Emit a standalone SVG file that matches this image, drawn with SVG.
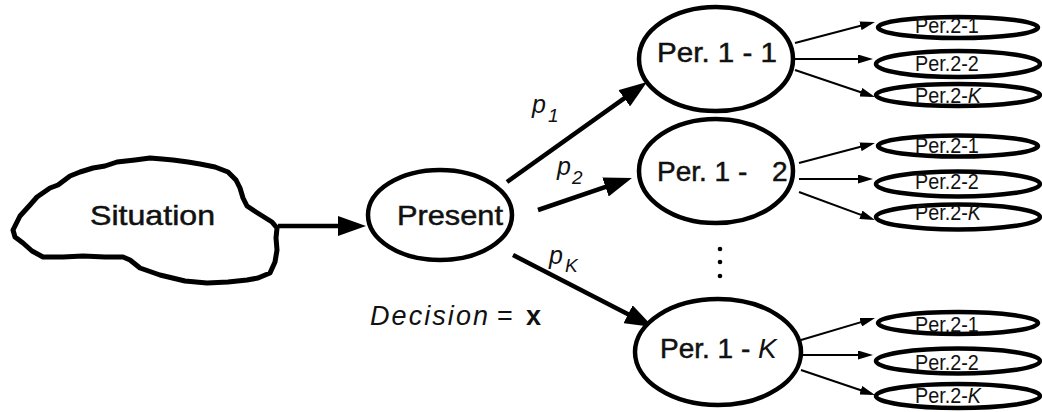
<svg xmlns="http://www.w3.org/2000/svg" width="1042" height="412" viewBox="0 0 1042 412">
<style>
.big{fill:#fff;stroke:#000;stroke-width:4.5}
.small{fill:#fff;stroke:#000;stroke-width:4.5}
.cloud{fill:#fff;stroke:#000;stroke-width:5;stroke-linejoin:round}
.t{font-family:"Liberation Sans",Arial,sans-serif;font-size:28px;fill:#111;stroke:#111;stroke-width:0.5}
.t2{font-family:"Liberation Sans",Arial,sans-serif;font-size:22px;fill:#111}
.it{font-family:"Liberation Sans",Arial,sans-serif;font-style:italic;fill:#111}
.ca{stroke:#000;stroke-width:4.5;fill:none}
.cs{stroke:#000;stroke-width:2;fill:none}
</style>
<defs>
<marker id="ab" markerUnits="userSpaceOnUse" viewBox="0 0 28 20" refX="18" refY="10" markerWidth="28" markerHeight="20" orient="auto"><path d="M0,0 L28,10 L0,20 Z" fill="#000"/></marker>
<marker id="as" markerUnits="userSpaceOnUse" viewBox="0 0 15 9" refX="11" refY="4.5" markerWidth="15" markerHeight="9" orient="auto"><path d="M0,0 L15,4.5 L0,9 Z" fill="#000"/></marker>
</defs>
<g id="connectors">
<line class="ca" x1="278" y1="226" x2="356" y2="226" marker-end="url(#ab)"/>
<line class="ca" x1="507" y1="182" x2="638.9" y2="87.8" marker-end="url(#ab)"/>
<line class="ca" x1="538" y1="210" x2="622.5" y2="181.2" marker-end="url(#ab)"/>
<line class="ca" x1="513" y1="255" x2="644.1" y2="322.4" marker-end="url(#ab)"/>
<line class="cs" x1="795" y1="43" x2="871.1" y2="23" marker-end="url(#as)"/>
<line class="cs" x1="795" y1="59" x2="869" y2="59" marker-end="url(#as)"/>
<line class="cs" x1="795" y1="70" x2="871.2" y2="95.7" marker-end="url(#as)"/>
<line class="cs" x1="799" y1="163" x2="871.1" y2="144" marker-end="url(#as)"/>
<line class="cs" x1="799" y1="179" x2="869" y2="179" marker-end="url(#as)"/>
<line class="cs" x1="799" y1="192" x2="871.2" y2="218.6" marker-end="url(#as)"/>
<line class="cs" x1="801" y1="340" x2="871.2" y2="319.1" marker-end="url(#as)"/>
<line class="cs" x1="803" y1="355" x2="869" y2="355" marker-end="url(#as)"/>
<line class="cs" x1="801" y1="370" x2="871.2" y2="393.7" marker-end="url(#as)"/>
</g>
<g id="labels">
<text class="it" x="532" y="113" font-size="25">p</text><text class="it" x="548" y="122" font-size="19">1</text>
<text class="it" x="557" y="175" font-size="25">p</text><text class="it" x="572" y="184" font-size="19">2</text>
<text class="it" x="549" y="264" font-size="25">p</text><text class="it" x="565" y="272" font-size="19">K</text>
<text x="370" y="325" font-family="Liberation Sans, Arial, sans-serif" font-size="27" fill="#111"><tspan font-style="italic" textLength="118">Decision</tspan><tspan x="497">=</tspan><tspan x="526" font-weight="bold">x</tspan></text>
<circle cx="720" cy="249" r="2.3" fill="#000"/>
<circle cx="720" cy="262" r="2.3" fill="#000"/>
<circle cx="720" cy="276" r="2.3" fill="#000"/>
</g>
<g id="situation">
<path class="cloud" d="M13,230 L20,216 L30,205 L37,197 L50,188 L58,185 L70,176 L80,172 L93,168 L105,166 L117,162 L135,160 L150,158 L162,159 L173,160 L188,162 L200,164 L215,167 L228,172 L236,180 L240,188 L243,198 L247,206 L256,212 L264,217 L272,222 L277,228 L276,238 L277,250 L275,262 L270,273 L258,278 L247,280 L228,282 L207,283 L185,281 L160,275 L140,268 L130,260 L123,257 L105,257 L83,256 L63,257 L43,257 L32,251 L23,243 L15,237 Z"/>
<text class="t" x="90" y="225" textLength="125" lengthAdjust="spacingAndGlyphs">Situation</text>
</g>
<g id="present">
<ellipse class="big" cx="440" cy="215" rx="72" ry="45"/>
<text class="t" x="397" y="225" textLength="106" lengthAdjust="spacingAndGlyphs">Present</text>
</g>
<g id="per1-1">
<ellipse class="big" cx="716" cy="59" rx="77" ry="52"/>
<text class="t" x="657" y="62" textLength="120" lengthAdjust="spacingAndGlyphs">Per. 1 - 1</text>
</g>
<g id="per1-2">
<ellipse class="big" cx="716" cy="171" rx="77" ry="52"/>
<text class="t" x="657" y="181">Per. 1 -<tspan x="772">2</tspan></text>
</g>
<g id="per1-K">
<ellipse class="big" cx="718" cy="352" rx="83" ry="53"/>
<text class="t" x="660" y="358">Per. 1 - <tspan font-style="italic" stroke-width="0">K</tspan></text>
</g>
<g id="per2-1a"><ellipse class="small" cx="958" cy="27.5" rx="80" ry="10.5"/><text class="t2" transform="translate(915,33) scale(0.9,1)">Per.2-1</text></g>
<g id="per2-2a"><ellipse class="small" cx="958" cy="64" rx="82" ry="13"/><text class="t2" transform="translate(915,71) scale(0.9,1)">Per.2-2</text></g>
<g id="per2-Ka"><ellipse class="small" cx="958" cy="95" rx="82" ry="11"/><text class="t2" transform="translate(915,103) scale(0.9,1)">Per.2-<tspan font-style="italic">K</tspan></text></g>
<g id="per2-1b"><ellipse class="small" cx="958" cy="146" rx="80" ry="10.5"/><text class="t2" transform="translate(915,153) scale(0.9,1)">Per.2-1</text></g>
<g id="per2-2b"><ellipse class="small" cx="958" cy="184" rx="82" ry="12.5"/><text class="t2" transform="translate(915,189) scale(0.9,1)">Per.2-2</text></g>
<g id="per2-Kb"><ellipse class="small" cx="958" cy="217" rx="82" ry="12.5"/><text class="t2" transform="translate(915,220) scale(0.9,1)">Per.2-<tspan font-style="italic">K</tspan></text></g>
<g id="per2-1c"><ellipse class="small" cx="958" cy="323" rx="80" ry="11"/><text class="t2" transform="translate(915,332) scale(0.9,1)">Per.2-1</text></g>
<g id="per2-2c"><ellipse class="small" cx="958" cy="361" rx="82" ry="12.5"/><text class="t2" transform="translate(915,370) scale(0.9,1)">Per.2-2</text></g>
<g id="per2-Kc"><ellipse class="small" cx="958" cy="396" rx="82" ry="12"/><text class="t2" transform="translate(915,403) scale(0.9,1)">Per.2-<tspan font-style="italic">K</tspan></text></g>
</svg>
